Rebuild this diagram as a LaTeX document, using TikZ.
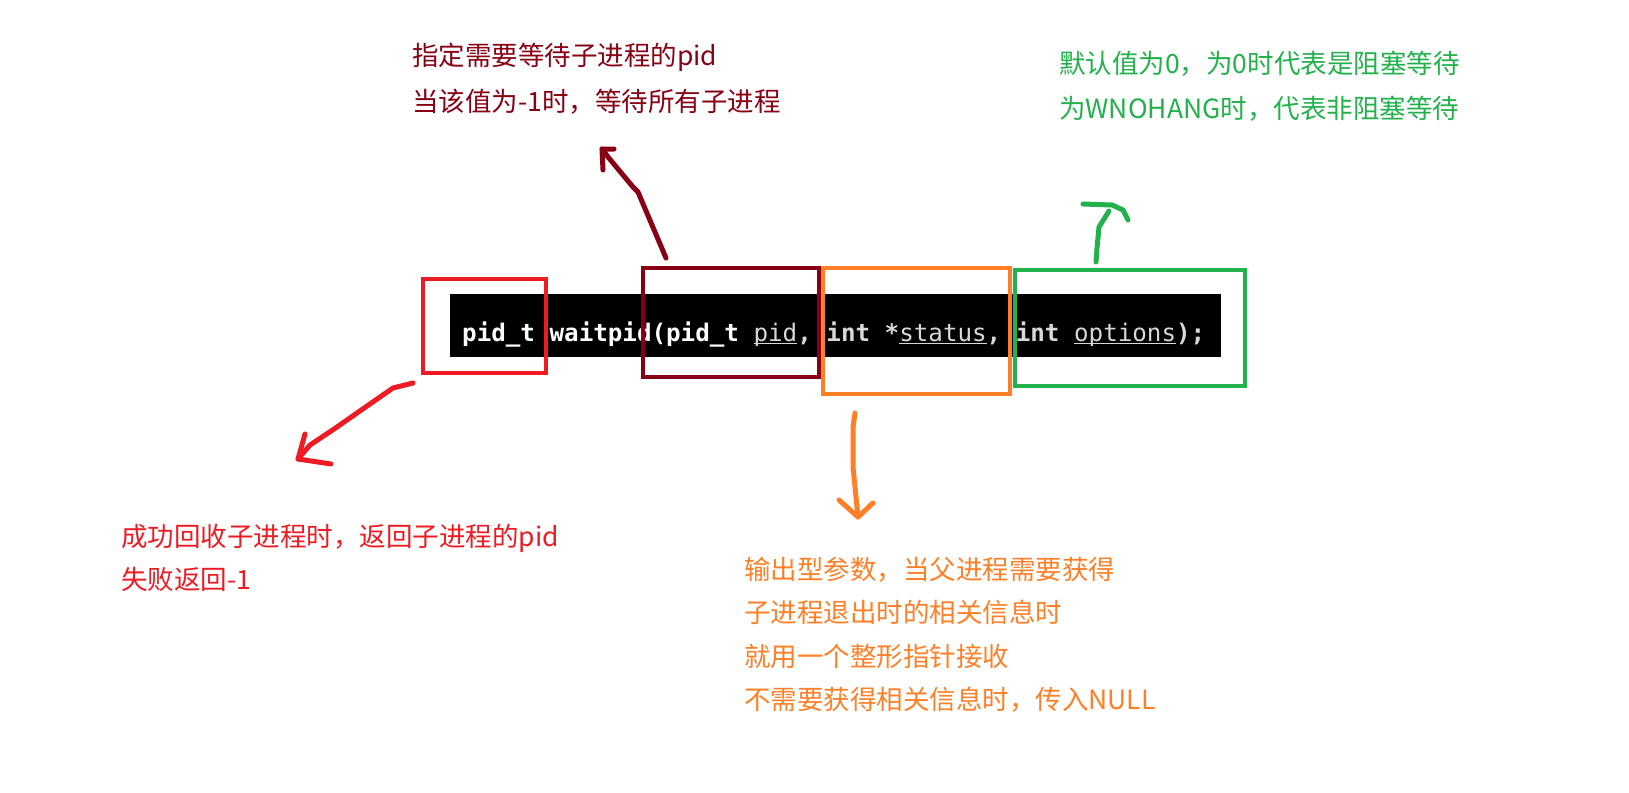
\documentclass[tikz,border=0pt]{standalone}
\usepackage{fontspec}
\usepackage{xcolor}
\newfontfamily\cjk{Noto Sans CJK SC}
\newfontfamily\codefont{DejaVu Sans Mono}
\definecolor{pRed}{HTML}{ED1C24}
\definecolor{pDark}{HTML}{880015}
\definecolor{pOrange}{HTML}{FF7F27}
\definecolor{pGreen}{HTML}{22B14C}
\definecolor{ulgray}{HTML}{D8D8D8}
\newcommand{\codeul}[1]{\setbox0\hbox{\mdseries\color{ulgray}#1}\rlap{\color{ulgray}\rule[-2.8pt]{\wd0}{1.2pt}}\box0}
\begin{document}
\begin{tikzpicture}[x=1pt,y=-1pt,
  note/.style={anchor=base west,inner sep=0pt,font=\cjk\fontsize{26.5}{30}\selectfont},
  hlbox/.style={draw,line width=3.5pt,minimum width=#1,inner sep=0pt},
  stroke/.style={line width=5pt,line cap=round,line join=round}]
\useasboundingbox[fill=white] (0,0) rectangle (1629,792);
% code bar
\node[fill=black,minimum width=771pt,minimum height=63pt,inner sep=0pt] (bar) at (835.5,325.5) {};
\node[anchor=base west,inner sep=0pt,text=white,font=\codefont\bfseries\fontsize{24.2}{28}\selectfont] (code) at (462,341)
  {pid\_t waitpid(pid\_t \codeul{pid}, int *\codeul{status}, int \codeul{options});};
% highlight boxes
\node[hlbox=123pt,minimum height=94pt,pRed] (redbox) at (484.5,326) {};
\node[hlbox=176pt,minimum height=109pt,pDark] (darkbox) at (731,322.5) {};
\node[hlbox=187pt,minimum height=126pt,pOrange] (orangebox) at (916.5,331) {};
\node[hlbox=230pt,minimum height=116pt,pGreen] (greenbox) at (1130,328) {};
% notes
\node[note,text=pDark] (dark1) at (412,66) {指定需要等待子进程的pid};
\node[note,text=pDark] (dark2) at (412,111) {当该值为-1时，等待所有子进程};
\node[note,text=pGreen] (green1) at (1059,74) {默认值为0，为0时代表是阻塞等待};
\node[note,text=pGreen] (green2) at (1059,118) {为WNOHANG时，代表非阻塞等待};
\node[note,text=pRed] (red1) at (121,546) {成功回收子进程时，返回子进程的pid};
\node[note,text=pRed] (red2) at (121,589) {失败返回-1};
\node[note,text=pOrange] (or1) at (744,579) {输出型参数，当父进程需要获得};
\node[note,text=pOrange] (or2) at (744,622) {子进程退出时的相关信息时};
\node[note,text=pOrange] (or3) at (744,666) {就用一个整形指针接收};
\node[note,text=pOrange] (or4) at (744,709) {不需要获得相关信息时，传入NULL};
% arrow ends
\coordinate (redS) at (413,383);
\coordinate (redT) at (298,459);
\coordinate (darkS) at (666,258);
\coordinate (darkT) at (602,149);
\coordinate (greenS) at (1096,262);
\coordinate (greenT) at (1112,205);
\coordinate (orS) at (855,413);
\coordinate (orT) at (858,517);
% hand-drawn arrows
\draw[stroke,pRed] (redS) -- (393,388) -- (380,397) -- (357,413) -- (337,427) -- (310,445) -- (redT);
\draw[stroke,pRed] (305,434) -- (redT) -- (331,464);
\draw[stroke,pDark] (darkS) -- (638,192) -- (633,187) -- (608,157) -- (darkT);
\draw[stroke,pDark] (603,170) -- (darkT) -- (614,149);
\draw[stroke,pGreen] (greenS) -- (1097,248) -- (1099,227) -- (1109,211);
\draw[stroke,pGreen] (1083,204) -- (greenT) -- (1123,210) -- (1128,220);
\draw[stroke,pOrange] (orS) -- (853,427) -- (853,467) -- (orT);
\draw[stroke,pOrange] (839,500) -- (orT) -- (873,503);
\end{tikzpicture}
\end{document}
